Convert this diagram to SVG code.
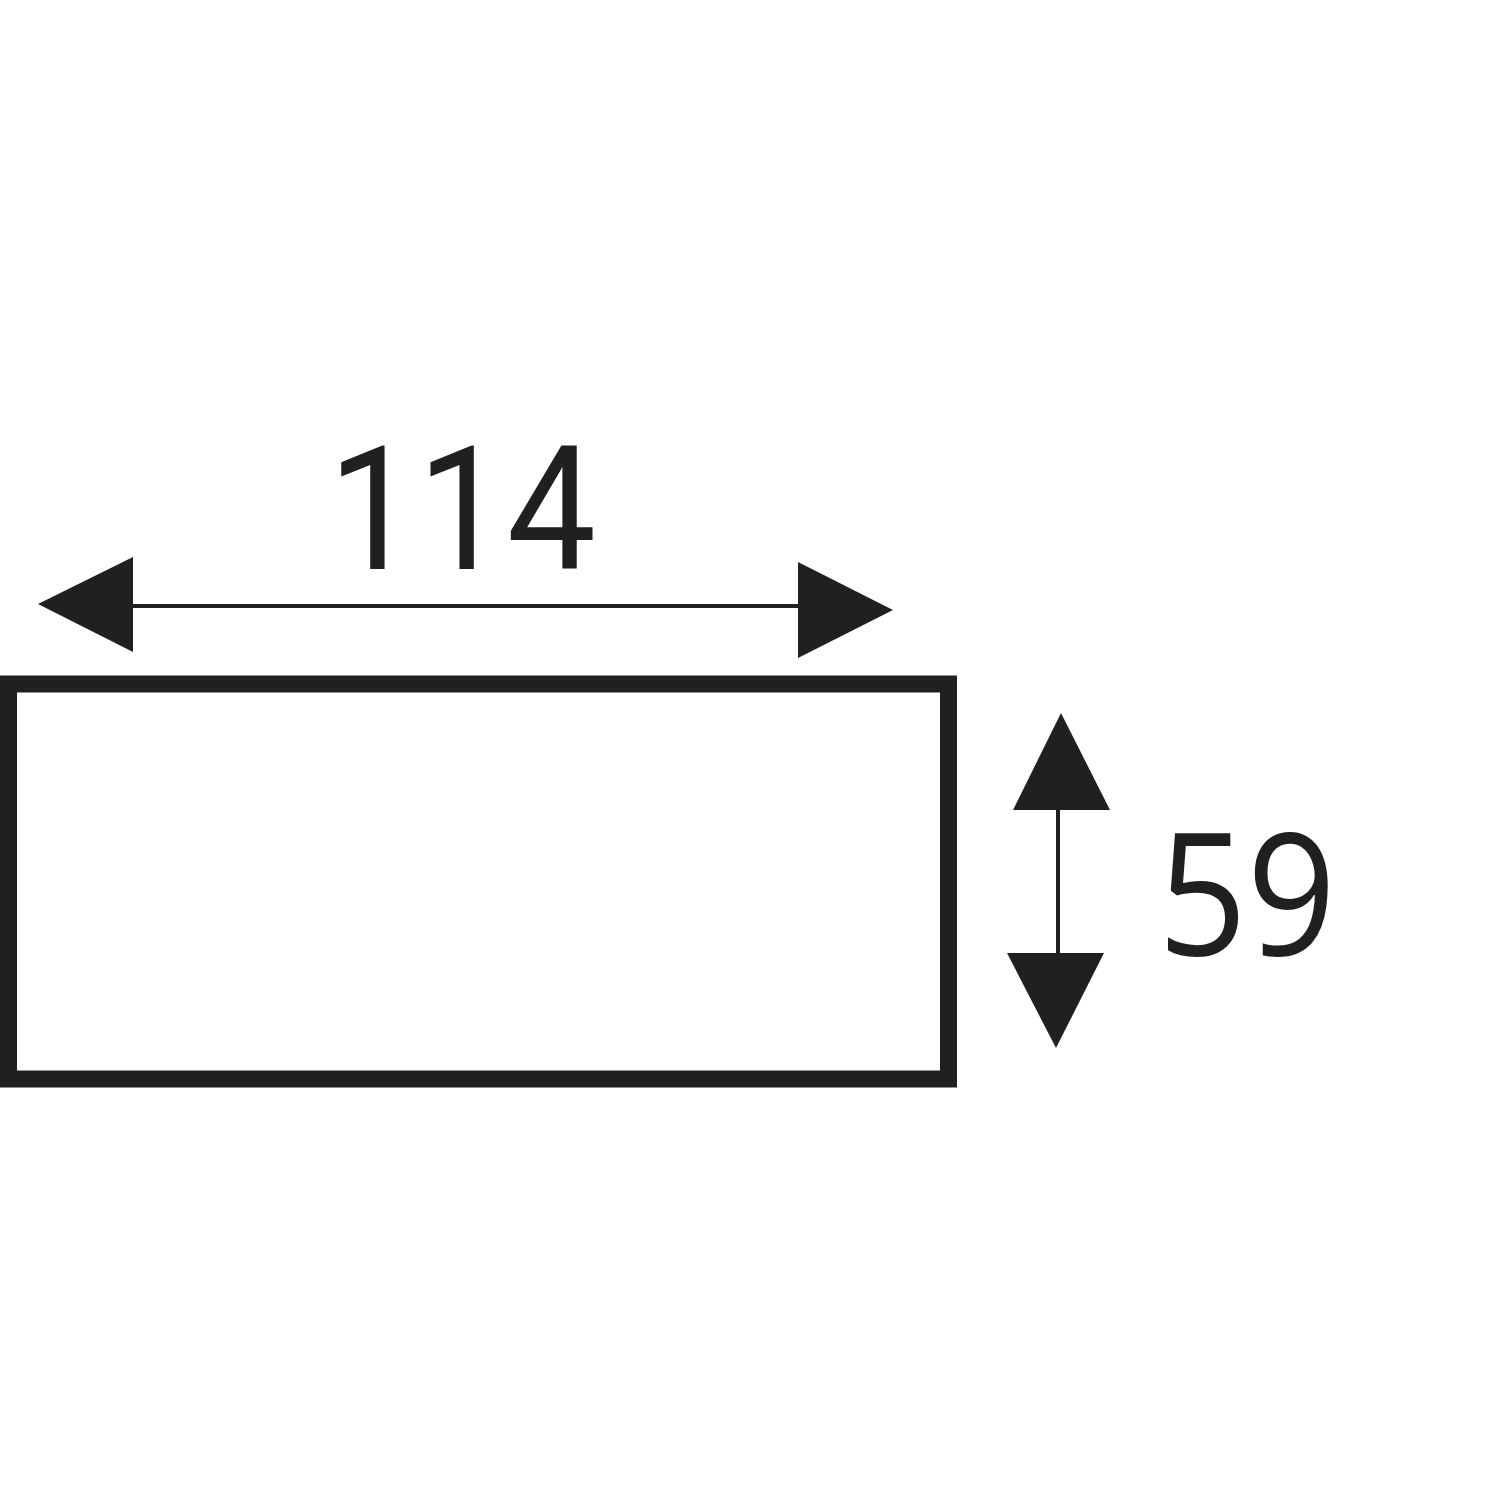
<svg xmlns="http://www.w3.org/2000/svg" width="1500" height="1500" viewBox="0 0 1500 1500">
<style>
.ink{fill:#202020}
.ln{stroke:#202020;fill:none}
.num{fill:#202020;font-family:Roboto,"Open Sans",sans-serif}
.num2{fill:#202020;font-family:"Open Sans","Noto Sans",sans-serif}
</style>
<rect width="1500" height="1500" fill="#ffffff"/>
<g id="box">
<rect class="ln" x="8.5" y="684" width="940" height="395" stroke-width="17"/>
</g>
<g id="connectors">
<line class="ln" x1="130" y1="606" x2="800" y2="606" stroke-width="4"/>
<polygon class="ink" points="38,604 133,557 133,652"/>
<polygon class="ink" points="893,610 798,562 798,658"/>
<line class="ln" x1="1058" y1="805" x2="1058" y2="958" stroke-width="4"/>
<polygon class="ink" points="1061,713 1013,810 1110,810"/>
<polygon class="ink" points="1056,1048 1007,953 1104,953"/>
</g>
<g id="label-114">
<text class="num" x="328" y="569" font-size="172" textLength="268" lengthAdjust="spacingAndGlyphs">114</text>
</g>
<g id="label-59">
<text class="num2" x="1158" y="955" font-size="170" textLength="178" lengthAdjust="spacingAndGlyphs">59</text>
</g>
</svg>
